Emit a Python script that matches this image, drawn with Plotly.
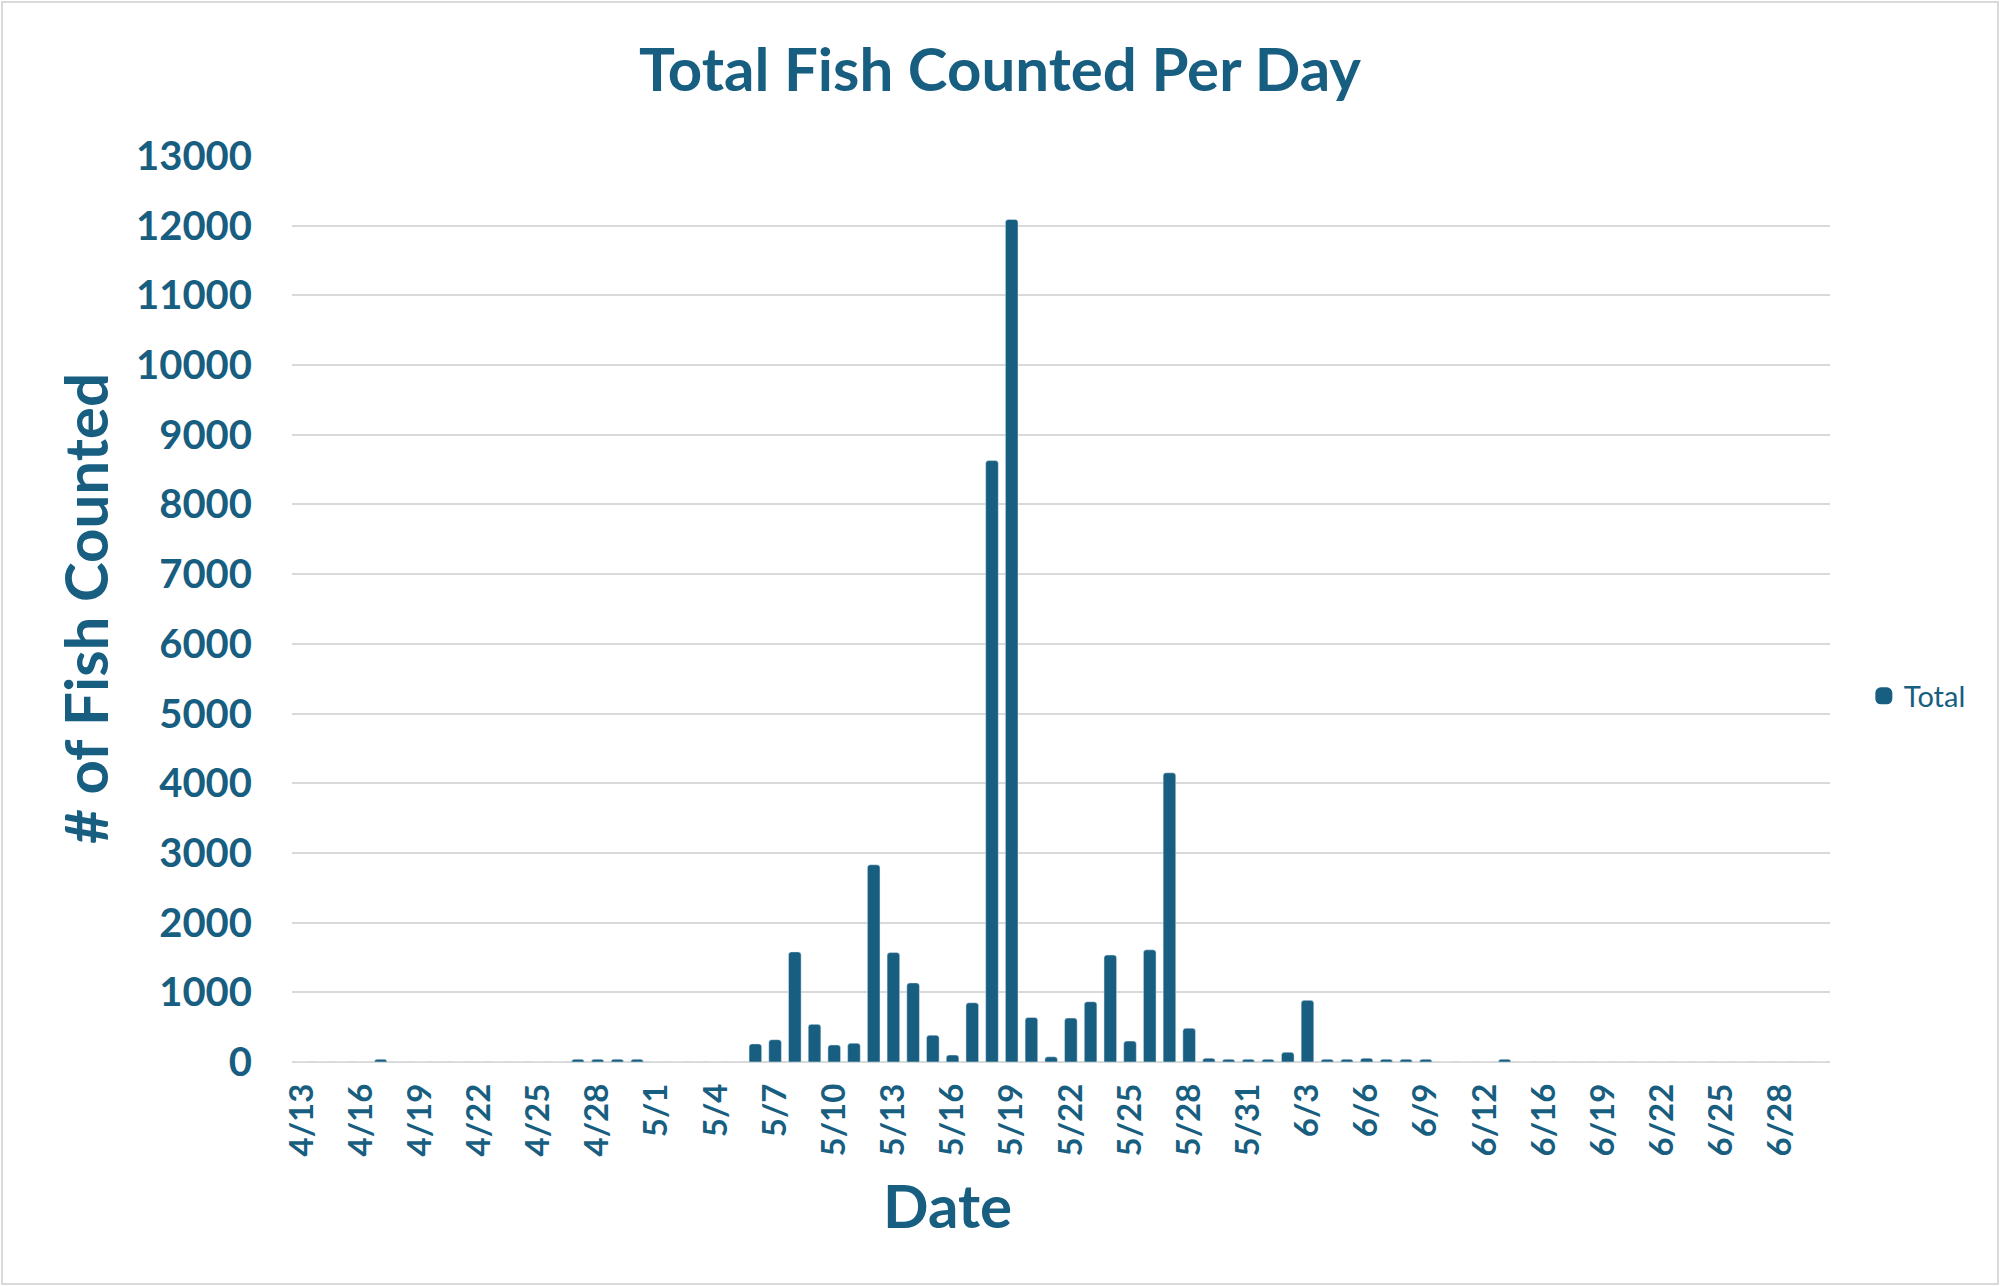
import plotly.graph_objects as go

# ------------------------------ data ------------------------------
DATES = [
    "4/13", "4/14", "4/15", "4/16", "4/17", "4/18", "4/19", "4/20", "4/21", "4/22",
    "4/23", "4/24", "4/25", "4/26", "4/27", "4/28", "4/29", "4/30",
    "5/1", "5/2", "5/3", "5/4", "5/5", "5/6", "5/7", "5/8", "5/9", "5/10",
    "5/11", "5/12", "5/13", "5/14", "5/15", "5/16", "5/17", "5/18", "5/19", "5/20",
    "5/21", "5/22", "5/23", "5/24", "5/25", "5/26", "5/27", "5/28", "5/29", "5/30", "5/31",
    "6/1", "6/2", "6/3", "6/4", "6/5", "6/6", "6/7", "6/8", "6/9", "6/10",
    "6/11", "6/12", "6/13", "6/14", "6/16", "6/17", "6/18", "6/19", "6/20",
    "6/21", "6/22", "6/23", "6/24", "6/25", "6/26", "6/27", "6/28", "6/29", "6/30",
]
TOTAL = [
    0, 0, 0, 0, 40, 0, 0, 0, 0, 0,
    0, 0, 0, 0, 40, 40, 40, 40,
    0, 0, 0, 0, 0, 260, 320, 1580, 540, 245,
    270, 2830, 1570, 1135, 385, 100, 850, 8630, 12090, 640,
    75, 630, 865, 1535, 300, 1610, 4150, 485, 55, 40, 40,
    40, 140, 885, 40, 40, 55, 40, 40, 40, 0,
    0, 0, 40, 0, 0, 0, 0, 0, 0,
    0, 0, 0, 0, 0, 0, 0, 0, 0, 0,
]
TICK_LABELS = DATES[::3]
Y_TICKS = list(range(0, 13001, 1000))

# ----------------------------- style ------------------------------
BLUE = "#175E80"
GRID = "#d9d9d9"
FONT = "Lato, Open Sans, sans-serif"
W, H = 2000, 1286
ML, MR, MT, MB = 292, 170, 156, 224   # plot area ~ x 292..1830, y 156..1062
PW, PH = W - ML - MR, H - MT - MB

fig = go.Figure()
fig.add_trace(go.Bar(
    x=DATES, y=TOTAL, name="Total", showlegend=False,
    marker=dict(color=BLUE),
))
# legend-only bar entry; the thick outline makes the swatch as big as Excel's
fig.add_trace(go.Bar(
    x=[None], y=[None], name="Total",
    marker=dict(color=BLUE, line=dict(color=BLUE, width=6)),
))

# axis titles placed by hand (Excel puts "Date" left of the plot centre)
fig.add_annotation(text="Date", xref="paper", yref="paper",
                   x=(947 - ML) / PW, y=(MT + PH - 1205) / PH,
                   showarrow=False, xanchor="center", yanchor="middle",
                   font=dict(family=FONT, size=60, color=BLUE, weight="bold"))
fig.add_annotation(text="# of Fish Counted", xref="paper", yref="paper",
                   x=(85 - ML) / PW, y=0.5, textangle=-90,
                   showarrow=False, xanchor="center", yanchor="middle",
                   font=dict(family=FONT, size=60, color=BLUE, weight="bold"))

# light chart border
fig.add_shape(type="rect", xref="paper", yref="paper", layer="below",
              x0=-(ML - 2) / PW, x1=1 + (MR - 2) / PW,
              y0=-(MB - 2) / PH, y1=1 + (MT - 2) / PH,
              line=dict(color="#d9d9d9", width=2))

fig.update_layout(
    width=W, height=H,
    margin=dict(l=ML, r=MR, t=MT, b=MB, autoexpand=False),
    paper_bgcolor="white", plot_bgcolor="white",
    font=dict(family=FONT, color=BLUE),
    title=dict(text="Total Fish Counted Per Day", x=0.5, xanchor="center",
               y=1 - 70 / H, yanchor="middle",
               font=dict(family=FONT, size=60, color=BLUE, weight="bold")),
    barmode="overlay",
    bargap=0.36,
    barcornerradius=3,
    showlegend=True,
    legend=dict(x=1.022, xanchor="left", y=(MT + PH - 696) / PH, yanchor="middle",
                font=dict(family=FONT, size=29, color=BLUE),
                itemwidth=30, bgcolor="rgba(0,0,0,0)"),
)
fig.update_xaxes(
    type="category", tickmode="array", tickvals=TICK_LABELS, ticktext=TICK_LABELS,
    tickangle=-90, showgrid=False, showline=False, ticks="",
    ticklabelstandoff=14,
    tickfont=dict(family=FONT, size=33, color=BLUE, weight="bold"),
)
fig.update_yaxes(
    range=[0, 13000], tickmode="array", tickvals=Y_TICKS,
    ticktext=[str(v) for v in Y_TICKS],
    showgrid=True, gridcolor=GRID, gridwidth=2,
    zeroline=True, zerolinecolor=GRID, zerolinewidth=2,
    showline=False, ticks="", ticklabelstandoff=39,
    tickfont=dict(family=FONT, size=40, color=BLUE, weight="bold"),
)

fig.write_html("out.html", config={"displayModeBar": False},
               post_script="document.body.style.margin='0';")
